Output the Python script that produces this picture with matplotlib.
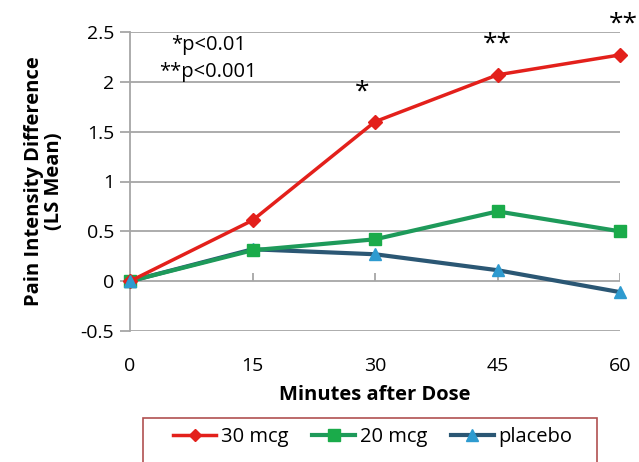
import matplotlib.pyplot as plt
from matplotlib.lines import Line2D
from matplotlib.patches import Rectangle

# Data
minutes = [0, 15, 30, 45, 60]
mcg30 = [0, 0.61, 1.60, 2.07, 2.27]
mcg20 = [0, 0.31, 0.42, 0.70, 0.50]
placebo = [0, 0.32, 0.27, 0.11, -0.11]
y_ticks = [-0.5, 0, 0.5, 1, 1.5, 2, 2.5]
y_tick_labels = ['-0.5', '0', '0.5', '1', '1.5', '2', '2.5']

# significance marks: (x, y, text)
sig_marks = [(28.4, 1.90, '*'), (45, 2.38, '**'), (60.4, 2.58, '**')]

plt.rcParams['font.family'] = ['Open Sans', 'DejaVu Sans']

fig = plt.figure(figsize=(6.39, 4.62), dpi=100)
ax = fig.add_axes([130 / 639, 1 - 331 / 462, 490 / 639, 299 / 462])

grid_col = '#a6a6a6'
for y in y_ticks:
    ax.axhline(y, color=grid_col, lw=1.3, zorder=1)
# short upward tick marks on the zero line
ax.vlines(minutes[1:], 0, 0.08, color=grid_col, lw=1.3, zorder=1)

ax.plot(minutes, placebo, color='#2b5774', lw=3, marker='^', ms=9,
        mfc='#2e9bd0', mec='#2e9bd0', clip_on=False, zorder=3)
ax.plot(minutes, mcg20, color='#1e9a5a', lw=3, marker='s', ms=9,
        mfc='#1aab4a', mec='#1aab4a', clip_on=False, zorder=4)
ax.plot(minutes, mcg30, color='#e3201b', lw=2.5, marker='D', ms=7,
        mfc='#e3201b', mec='#e3201b', clip_on=False, zorder=5)
# placebo marker at x=0 drawn on top like reference
ax.plot(minutes[:1], placebo[:1], marker='^', ms=9, mfc='#2e9bd0',
        mec='#2e9bd0', clip_on=False, zorder=6, ls='none')

ax.set_xlim(0, 60)
ax.set_ylim(-0.5, 2.5)
ax.set_xticks(minutes)
ax.set_yticks(y_ticks)
ax.set_yticklabels(y_tick_labels)
ax.tick_params(axis='x', length=0, pad=19, labelsize=14)
ax.tick_params(axis='y', length=7.5, width=1.3, color=grid_col, pad=4,
               labelsize=14)
for side in ['top', 'right', 'bottom']:
    ax.spines[side].set_visible(False)
ax.spines['left'].set_color(grid_col)
ax.spines['left'].set_linewidth(1.3)

ax.set_xlabel('Minutes after Dose', fontsize=14.5, fontweight='bold',
              labelpad=7)
ax.set_ylabel('Pain Intensity Difference\n(LS Mean)', fontsize=14.5,
              fontweight='bold', linespacing=1.0)
ax.yaxis.set_label_coords(-0.135, 0.5)

for x, y, t in sig_marks:
    ax.text(x, y, t, ha='center', va='center', fontsize=19)

ax.text(0.16, 0.955, '*p<0.01', transform=ax.transAxes, ha='center',
        va='center', fontsize=14.5)
ax.text(0.16, 0.865, '**p<0.001', transform=ax.transAxes, ha='center',
        va='center', fontsize=14.5)

# legend frame (runs off the bottom edge like the reference)
fig.patches.append(Rectangle((143 / 639, -0.05), 454 / 639, 0.05 + 44 / 462,
                             transform=fig.transFigure, fill=False,
                             edgecolor='#b05050', lw=1.2))

handles = [
    Line2D([], [], color='#e3201b', lw=2.5, marker='D', ms=6),
    Line2D([], [], color='#1e9a5a', lw=3, marker='s', ms=8,
           mfc='#1aab4a', mec='#1aab4a'),
    Line2D([], [], color='#2b5774', lw=3, marker='^', ms=8,
           mfc='#2e9bd0', mec='#2e9bd0'),
]
fig.legend(handles, ['30 mcg', '20 mcg', 'placebo'], ncol=3,
           loc='center', bbox_to_anchor=(373 / 639, 1 - 437 / 462),
           fontsize=14.5, frameon=False, handlelength=2.1,
           handletextpad=0.25, columnspacing=1.2, borderpad=0,
           borderaxespad=0)

fig.savefig('out.png', dpi=100)
